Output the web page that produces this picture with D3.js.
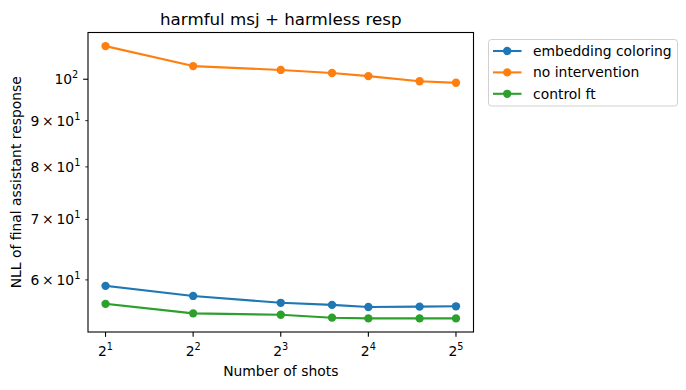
<!DOCTYPE html>
<html><head><meta charset="utf-8">
<script src="https://cdn.jsdelivr.net/npm/d3@7"></script>
<style>body{margin:0;background:#fff}svg{font-family:"DejaVu Sans",sans-serif}</style>
</head><body>
<svg id="c" width="686" height="390"></svg>
<script>
const shots = [2, 4, 8, 12, 16, 24, 32];
const seriesNames = ["embedding coloring", "no intervention", "control ft"];
const embeddingColoring = [59.1, 57.6, 56.6, 56.3, 56.0, 56.05, 56.1];
const noIntervention = [108.8, 103.4, 102.4, 101.6, 100.8, 99.5, 99.1];
const controlFt = [56.45, 55.1, 54.9, 54.5, 54.4, 54.4, 54.4];
const xTickExps = [1, 2, 3, 4, 5];
const yMajorTicks = [100];
const yMinorTicks = [60, 70, 80, 90];
const colors = ["#1f77b4", "#ff7f0e", "#2ca02c"];

const svg = d3.select("#c");
const L = 88, R = 473.5, T = 32.5, B = 332;
const x = d3.scaleLog().base(2).domain([Math.pow(2, 0.8), Math.pow(2, 5.2)]).range([L, R]);
const allVals = embeddingColoring.concat(noIntervention, controlFt);
const lo = d3.min(allVals), hi = d3.max(allVals);
const m = Math.log(hi / lo) * 0.05;
const y = d3.scaleLog().domain([lo / Math.exp(m), hi * Math.exp(m)]).range([B, T]);

const data = [embeddingColoring, noIntervention, controlFt];
const line = d3.line().x((d, i) => x(shots[i])).y(d => y(d));
data.forEach((vals, k) => {
  svg.append("path").attr("d", line(vals)).attr("fill", "none")
    .attr("stroke", colors[k]).attr("stroke-width", 2.08).attr("stroke-linejoin", "round").attr("stroke-linecap", "square");
  svg.selectAll(null).data(vals).enter().append("circle")
    .attr("cx", (d, i) => x(shots[i])).attr("cy", d => y(d)).attr("r", 4.17).attr("fill", colors[k]);
});

// axes frame
svg.append("rect").attr("x", L).attr("y", T).attr("width", R - L).attr("height", B - T)
  .attr("fill", "none").attr("stroke", "#000").attr("stroke-width", 1.1);

// x ticks
xTickExps.forEach(e => {
  const xv = x(Math.pow(2, e));
  svg.append("line").attr("x1", xv).attr("x2", xv).attr("y1", B).attr("y2", B + 4.86).attr("stroke", "#000").attr("stroke-width", 1.1);
  const t = svg.append("text").attr("x", xv).attr("y", 356).attr("text-anchor", "middle").attr("font-size", 13.9).attr("fill", "#000");
  t.append("tspan").text("2");
  t.append("tspan").attr("dy", -6).attr("font-size", 9.7).text(e);
});

// y ticks
function yLabel(v, len) {
  const yv = y(v);
  svg.append("line").attr("x1", L).attr("x2", L - len).attr("y1", yv).attr("y2", yv).attr("stroke", "#000").attr("stroke-width", len > 3 ? 1.1 : 0.8);
  const t = svg.append("text").attr("x", L - len - 4.9).attr("y", yv + 5).attr("text-anchor", "end").attr("font-size", 13.9).attr("fill", "#000");
  const exp = Math.floor(Math.log10(v));
  const mant = Math.round(v / Math.pow(10, exp));
  if (mant === 1) t.append("tspan").text("10");
  else t.append("tspan").text(mant + "\u2009\u00d7\u200910");
  t.append("tspan").attr("dy", -6).attr("font-size", 9.7).text(exp);
}
yMajorTicks.forEach(v => yLabel(v, 4.86));
yMinorTicks.forEach(v => yLabel(v, 2.78));

// title & labels
svg.append("text").attr("x", (L + R) / 2).attr("y", 25).attr("text-anchor", "middle").attr("font-size", 16.7).text("harmful msj + harmless resp");
svg.append("text").attr("x", (L + R) / 2).attr("y", 376).attr("text-anchor", "middle").attr("font-size", 13.9).text("Number of shots");
svg.append("text").attr("transform", `translate(21,${(T + B) / 2}) rotate(-90)`).attr("text-anchor", "middle").attr("font-size", 13.9).text("NLL of final assistant response");

// legend
const lg = svg.append("g");
lg.append("rect").attr("x", 488.5).attr("y", 39.5).attr("width", 189).attr("height", 66.5).attr("rx", 3)
  .attr("fill", "#fff").attr("stroke", "#d0d0d0").attr("stroke-width", 1);
seriesNames.forEach((n, k) => {
  const yy = 51 + k * 21.4;
  lg.append("line").attr("x1", 493).attr("x2", 521.5).attr("y1", yy).attr("y2", yy).attr("stroke", colors[k]).attr("stroke-width", 2.08);
  lg.append("circle").attr("cx", 507.2).attr("cy", yy).attr("r", 4.17).attr("fill", colors[k]);
  lg.append("text").attr("x", 533).attr("y", yy + 5).attr("font-size", 13.9).text(n);
});
</script>
</body></html>
